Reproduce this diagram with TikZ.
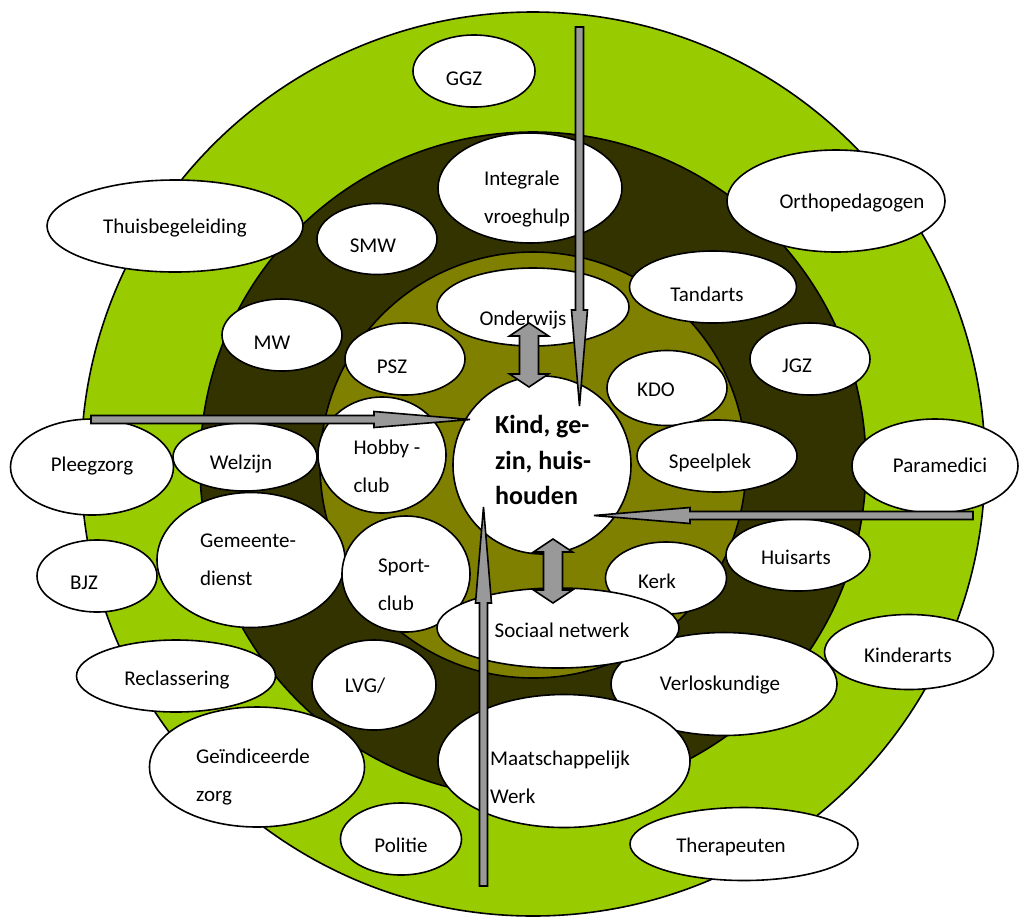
\documentclass[tikz,border=0pt]{standalone}
\usepackage{fontspec}
\setmainfont{Carlito}
\usetikzlibrary{shapes.geometric}

\definecolor{lichtgroen}{HTML}{99CC00}
\definecolor{donker}{HTML}{333300}
\definecolor{olijf}{HTML}{808000}
\definecolor{grijs}{HTML}{999999}

\tikzset{
	bol/.style={ellipse, draw=black, fill=white, line width=0.8pt, inner sep=0pt},
	tekst/.style={font=\fontsize{10.5}{12.6}\selectfont, inner sep=0pt, text height=6.8pt, text depth=0pt},
	tekst2/.style={font=\fontsize{10.5}{19}\selectfont, align=left, inner sep=0pt},
	pijl/.style={draw=black, fill=grijs, line width=0.8pt, line join=miter},
	pics/blokpijl/.style={code={
		\draw[pijl] (0,-4) -- (283,-4) -- (283,-8) -- (379,0) -- (283,8) -- (283,4) -- (0,4) -- cycle;
	}},
	pics/dubbelpijl/.style={code={
		\draw[pijl] (0,0) -- (19.5,13) -- (9.5,13) -- (9.5,51) -- (19.5,51) -- (0,64)
			-- (-19.5,51) -- (-9.5,51) -- (-9.5,13) -- (-19.5,13) -- cycle;
	}},
}

\begin{document}
\begin{tikzpicture}[x=0.5pt, y=-0.5pt]
	\useasboundingbox (0,0) rectangle (1029,917);
	% ringen
	\draw[fill=lichtgroen, line width=0.8pt] (533,464) circle[radius=226pt];
	\draw[fill=donker, line width=0.8pt] (533,465) circle[radius=166.5pt];
	\draw[fill=olijf, line width=0.8pt] (533,465) circle[radius=106.5pt];
	% buitenste ring
	\node[bol, minimum width=61pt, minimum height=36pt] (ggz) at (474,71) {};
	\node[tekst] (ggz-t) at (464,79) {GGZ};
	\node[bol, minimum width=109pt, minimum height=51pt] (ortho) at (836,201) {};
	\node[tekst] (ortho-t) at (852,202) {Orthopedagogen};
	\node[bol, minimum width=128pt, minimum height=46pt] (thuis) at (175,226) {};
	\node[tekst] (thuis-t) at (175,227) {Thuisbegeleiding};
	\node[bol, minimum width=81.5pt, minimum height=48pt] (pleeg) at (92,467) {};
	\node[tekst] (pleeg-t) at (92,465) {Pleegzorg};
	\node[bol, minimum width=83pt, minimum height=47pt] (para) at (935,466) {};
	\node[tekst] (para-t) at (940,466) {Paramedici};
	\node[bol, minimum width=60pt, minimum height=36pt] (bjz) at (97,576) {};
	\node[tekst] (bjz-t) at (84,583) {BJZ};
	\node[bol, minimum width=84.5pt, minimum height=37.5pt] (kinder) at (909,652) {};
	\node[tekst] (kinder-t) at (908,656) {Kinderarts};
	\node[bol, minimum width=99.5pt, minimum height=36pt] (reclas) at (176,676) {};
	\node[tekst] (reclas-t) at (177,679) {Reclassering};
	\node[bol, minimum width=107.5pt, minimum height=60pt] (geind) at (257,767) {};
	\node[tekst2] (geind-t) at (253,777) {Geïndiceerde\\zorg};
	\node[bol, minimum width=60.5pt, minimum height=36pt] (politie) at (401,839) {};
	\node[tekst] (politie-t) at (401,846) {Politie};
	\node[bol, minimum width=114pt, minimum height=36.5pt] (thera) at (744,844) {};
	\node[tekst] (thera-t) at (731,846) {Therapeuten};
	% middelste ring
	\node[bol, minimum width=92pt, minimum height=55pt] (vroeg) at (530,188) {};
	\node[tekst2] (vroeg-t) at (527,199) {Integrale\\vroeghulp};
	\node[bol, minimum width=60pt, minimum height=35.5pt] (smw) at (377,239) {};
	\node[tekst] (smw-t) at (373,246) {SMW};
	\node[bol, minimum width=83.5pt, minimum height=36pt] (tand) at (713,287) {};
	\node[tekst] (tand-t) at (707,295) {Tandarts};
	\node[bol, minimum width=60pt, minimum height=36pt] (mw) at (282,335) {};
	\node[tekst] (mw-t) at (272,343) {MW};
	\node[bol, minimum width=60pt, minimum height=36pt] (jgz) at (810,359) {};
	\node[tekst] (jgz-t) at (797,366) {JGZ};
	\node[bol, minimum width=72pt, minimum height=34pt] (welzijn) at (245,457) {};
	\node[tekst] (welzijn-t) at (241,463) {Welzijn};
	\node[bol, minimum width=94pt, minimum height=67.5pt] (gemeente) at (251,560) {};
	\node[tekst2] (gemeente-t) at (248,560) {Gemeente-\\dienst};
	\node[bol, minimum width=72pt, minimum height=36pt] (huisarts) at (798,555) {};
	\node[tekst] (huisarts-t) at (796,558) {Huisarts};
	\node[bol, minimum width=62pt, minimum height=45pt] (lvg) at (374,685) {};
	\node[tekst] (lvg-t) at (365,686) {LVG/};
	\node[bol, minimum width=113pt, minimum height=51.5pt] (verlos) at (724,684) {};
	\node[tekst] (verlos-t) at (720,684) {Verloskundige};
	\node[bol, minimum width=126pt, minimum height=66.5pt] (maatsch) at (564,761) {};
	\node[tekst2] (maatsch-t) at (560,777) {Maatschappelijk\\Werk};
	% binnenste ring
	\node[bol, minimum width=96pt, minimum height=39pt] (onderwijs) at (533,307) {};
	\node[tekst] (onderwijs-t) at (523,319) {Onderwijs};
	\node[bol, minimum width=60pt, minimum height=36pt] (psz) at (405,359) {};
	\node[tekst] (psz-t) at (392,367) {PSZ};
	\node[bol, minimum width=60pt, minimum height=37.5pt] (kdo) at (667,388) {};
	\node[tekst] (kdo-t) at (656,390) {KDO};
	\node[bol, minimum width=64pt, minimum height=58pt] (hobby) at (382,455) {};
	\node[tekst2] (hobby-t) at (387,466) {Hobby -\\club};
	\node[bol, minimum width=80pt, minimum height=36pt] (speel) at (717,456) {};
	\node[tekst] (speel-t) at (710,462) {Speelplek};
	\node[bol, minimum width=64pt, minimum height=58pt] (sport) at (406,574) {};
	\node[tekst2] (sport-t) at (404,585) {Sport-\\club};
	\node[bol, minimum width=60.5pt, minimum height=36pt] (kerk) at (666,578) {};
	\node[tekst] (kerk-t) at (657,582) {Kerk};
	\node[bol, minimum width=121pt, minimum height=40pt] (sociaal) at (558,628) {};
	\node[tekst] (sociaal-t) at (562,631) {Sociaal netwerk};
	% midden
	\node[bol, circle, minimum size=89pt] (kind) at (542,465) {};
	\node[tekst2, font=\bfseries\fontsize{13}{17.75}\selectfont] (kind-t) at (543,460) {Kind, ge-\\zin, huis-\\houden};
	% pijlen
	\coordinate (pijl-boven) at (579.5,27);
	\coordinate (pijl-links) at (91,419.5);
	\coordinate (pijl-rechts) at (973,515.5);
	\coordinate (pijl-onder) at (483.5,886);
	\pic[rotate=-90] at (pijl-boven) {blokpijl};
	\pic at (pijl-links) {blokpijl};
	\pic[rotate=180] at (pijl-rechts) {blokpijl};
	\pic[rotate=90] at (pijl-onder) {blokpijl};
	\coordinate (dubbel-boven) at (529,323);
	\coordinate (dubbel-onder) at (553,539);
	\pic at (dubbel-boven) {dubbelpijl};
	\pic at (dubbel-onder) {dubbelpijl};
\end{tikzpicture}
\end{document}
